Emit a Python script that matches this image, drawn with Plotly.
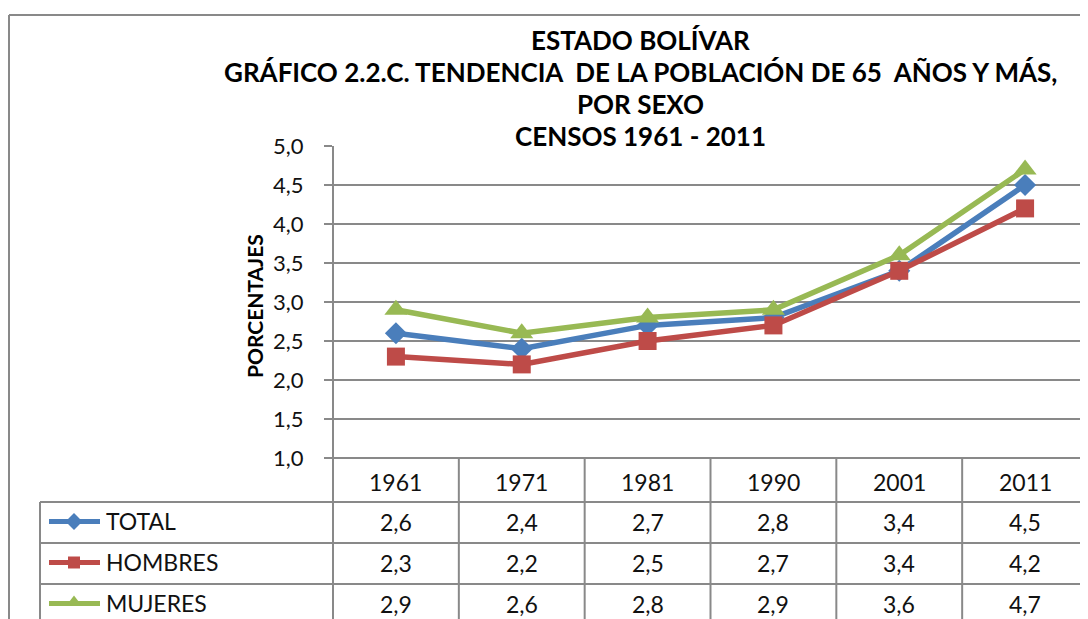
import plotly.graph_objects as go

# ---- data ----
years = ["1961", "1971", "1981", "1990", "2001", "2011"]
total = [2.6, 2.4, 2.7, 2.8, 3.4, 4.5]
hombres = [2.3, 2.2, 2.5, 2.7, 3.4, 4.2]
mujeres = [2.9, 2.6, 2.8, 2.9, 3.6, 4.7]
series_names = ["TOTAL", "HOMBRES", "MUJERES"]
title_lines = ["ESTADO BOLÍVAR",
               "GRÁFICO 2.2.C. TENDENCIA\u00a0 DE LA POBLACIÓN DE 65\u00a0 AÑOS Y MÁS,",
               "POR SEXO",
               "CENSOS 1961 - 2011"]
y_title = "PORCENTAJES"

# ---- styles ----
W, H = 1088, 619
OFF = 8  # page body margin: figure pixel (0,0) appears at screen (8,8)
colors = ["#4A7EBB", "#BE4B48", "#98B954"]
symbols = ["diamond", "square", "triangle-up"]
msizes = [17, 18, 20]
key_sizes = [13, 12, 14]
FONT = "Lato"
GRID = "#898989"
TXT = "#111111"
CLEAR = "rgba(0,0,0,0)"

# plot area in screen pixels
PX0, PX1, PY0, PY1 = 333, 1088, 146, 458
TAB_LEFT = 40
ROW_Y = [458, 502, 543, 584, 625]


def fx(sx):
    return min(max((sx - OFF) / W, 0), 1)


def fy(sy):
    return min(max(1 - (sy - OFF) / H, 0), 1)


fig = go.Figure()

all_series = [total, hombres, mujeres]
for name, vals, c, s, ms in zip(series_names, all_series, colors, symbols, msizes):
    fig.add_trace(go.Scatter(
        x=years, y=vals, name=name, mode="lines+markers",
        line=dict(color=c, width=5.5),
        marker=dict(symbol=s, size=ms, color=c, line=dict(width=0)),
        showlegend=False, cliponaxis=False))

# legend keys on a full-page pixel axis (screen coordinates)
for i, (c, s, ks) in enumerate(zip(colors, symbols, key_sizes)):
    yc = (ROW_Y[i + 1] + ROW_Y[i + 2]) / 2 - 1
    fig.add_trace(go.Scatter(
        x=[49, 100], y=[yc, yc], mode="lines", line=dict(color=c, width=5),
        xaxis="x2", yaxis="y2", showlegend=False, hoverinfo="skip"))
    fig.add_trace(go.Scatter(
        x=[74], y=[yc if s != "triangle-up" else yc - 1], mode="markers",
        marker=dict(symbol=s, size=ks, color=c, line=dict(width=0)),
        xaxis="x2", yaxis="y2", showlegend=False, hoverinfo="skip"))

shapes = []
ls = dict(color=GRID, width=2)


def hline(x0, x1, y):
    shapes.append(dict(type="line", xref="paper", yref="paper", x0=fx(x0), x1=fx(x1),
                       y0=fy(y), y1=fy(y), line=ls, layer="below"))


def vline(x, y0, y1):
    shapes.append(dict(type="line", xref="paper", yref="paper", x0=fx(x), x1=fx(x),
                       y0=fy(y0), y1=fy(y1), line=ls, layer="below"))


# outer chart border
hline(9, 1100, 15)
vline(9, 15, 700)
# table
hline(PX0, 1100, ROW_Y[0])
for ry in ROW_Y[1:4]:
    hline(TAB_LEFT, 1100, ry)
vline(TAB_LEFT, ROW_Y[1], 700)
vline(PX0, PY0, 700)
colw = (PX1 - PX0) / len(years)
for k in range(1, len(years)):
    vline(PX0 + k * colw, ROW_Y[0], 700)

annotations = []
for i, t in enumerate(title_lines):
    annotations.append(dict(text=t, xref="paper", yref="paper", x=fx(640), y=fy(40 + 32 * i),
                            showarrow=False, xanchor="center", yanchor="middle",
                            font=dict(family=FONT, size=26, color="#000000", weight="bold")))
annotations.append(dict(text=y_title, xref="paper", yref="paper", x=fx(255), y=fy(306),
                        textangle=-90, showarrow=False, xanchor="center", yanchor="middle",
                        font=dict(family=FONT, size=21, color="#000000", weight="bold")))
cell_font = dict(family=FONT, size=23, color=TXT)
for k, yr in enumerate(years):
    xc = PX0 + (k + 0.5) * colw
    annotations.append(dict(text=yr, xref="paper", yref="paper", x=fx(xc),
                            y=fy((ROW_Y[0] + ROW_Y[1]) / 2 + 2), showarrow=False,
                            xanchor="center", yanchor="middle", font=cell_font))
    for r, vals in enumerate(all_series):
        annotations.append(dict(text=f"{vals[k]:.1f}".replace(".", ","), xref="paper", yref="paper",
                                x=fx(xc), y=fy((ROW_Y[r + 1] + ROW_Y[r + 2]) / 2 - 0.5),
                                showarrow=False, xanchor="center", yanchor="middle", font=cell_font))
for r, name in enumerate(series_names):
    annotations.append(dict(text=name, xref="paper", yref="paper", x=fx(104),
                            y=fy((ROW_Y[r + 1] + ROW_Y[r + 2]) / 2 - 1.5), showarrow=False,
                            xanchor="left", yanchor="middle", font=cell_font))

fig.update_layout(
    width=W, height=H, margin=dict(l=0, r=0, t=0, b=0, pad=0, autoexpand=False),
    paper_bgcolor="white", plot_bgcolor=CLEAR, separators=",.",
    xaxis=dict(domain=[fx(PX0), fx(PX1)], type="category", range=[-0.5, 5.5],
               showticklabels=False, showgrid=False, zeroline=False, ticks="",
               anchor="y"),
    yaxis=dict(domain=[fy(PY1), fy(PY0)], range=[1, 5], dtick=0.5, tick0=1,
               tickformat=".1f", showgrid=True, gridcolor=GRID, gridwidth=2,
               zeroline=False, showline=False, ticks="outside", ticklen=8,
               tickcolor=GRID, tickwidth=2, ticklabelstandoff=16,
               tickfont=dict(family=FONT, size=22, color=TXT), anchor="x"),
    xaxis2=dict(domain=[0, 1], range=[OFF, OFF + W], visible=False, anchor="y2"),
    yaxis2=dict(domain=[0, 1], range=[OFF + H, OFF], visible=False, anchor="x2"),
    shapes=shapes, annotations=annotations,
)

fig.write_html("out.html")
